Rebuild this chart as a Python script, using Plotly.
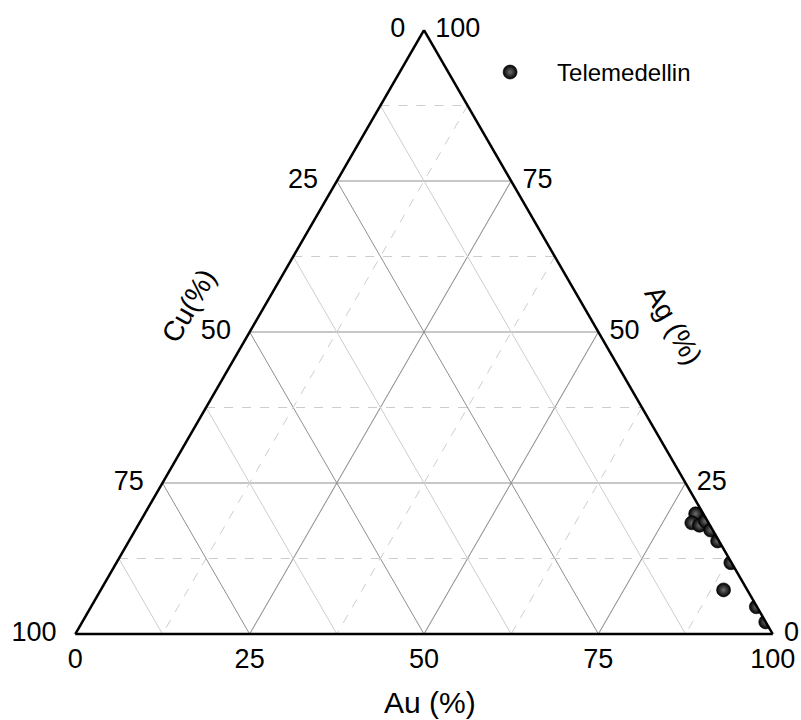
import plotly.graph_objects as go

# Composition of the Telemedellin samples (wt. %)
sample_names = [f"T{i}" for i in range(1, 11)]
ag_pct = [19.9, 18.4, 18.0, 18.7, 17.2, 15.4, 11.8, 7.3, 4.5, 2.0]
au_pct = [79.0, 79.2, 80.5, 81.0, 82.5, 84.4, 88.1, 89.3, 95.4, 98.0]
cu_pct = [1.1, 2.4, 1.5, 0.3, 0.3, 0.2, 0.1, 3.4, 0.1, 0.0]

# Axis ticks (major grid) and intermediate guide lines
major_ticks = [0, 25, 50, 75, 100]
minor_ticks = [12.5, 37.5, 62.5, 87.5]

FONT = "Liberation Sans, Arial, sans-serif"
TICK_SIZE = 27
NBSP = "\u00a0"


def complement_labels(vals, before="", after=""):
    # each edge is labelled with the component that runs the other way round
    return [before + str(int(100 - v)) + after for v in vals]


fig = go.Figure()

# Intermediate guide lines: horizontal (Ag) dashed, Cu solid, Au dashed
light = "#cdcdcd"
for v in minor_ticks:
    fig.add_trace(go.Scatterternary(
        a=[v, v], b=[100 - v, 0], c=[0, 100 - v], mode="lines",
        line=dict(color=light, width=1, dash="dash"),
        hoverinfo="skip", showlegend=False))
    fig.add_trace(go.Scatterternary(
        a=[100 - v, 0], b=[v, v], c=[0, 100 - v], mode="lines",
        line=dict(color=light, width=1),
        hoverinfo="skip", showlegend=False))
    fig.add_trace(go.Scatterternary(
        a=[100 - v, 0], b=[0, 100 - v], c=[v, v], mode="lines",
        line=dict(color=light, width=1, dash="dash"),
        hoverinfo="skip", showlegend=False))

fig.add_trace(go.Scatterternary(
    a=ag_pct, b=cu_pct, c=au_pct,
    text=sample_names,
    mode="markers",
    name="Telemedellin",
    marker=dict(
        size=14,
        color="#000000",
        gradient=dict(type="radial", color="#6e6e6e"),
        line=dict(color="#000000", width=0.6),
    ),
))


def axis(ticktext):
    return dict(
        min=0,
        linecolor="black",
        linewidth=2.5,
        showgrid=True,
        gridcolor="#8f8f8f",
        gridwidth=1,
        ticks="",
        tickmode="array",
        tickvals=major_ticks,
        ticktext=ticktext,
        tickfont=dict(family=FONT, size=TICK_SIZE, color="black"),
        title=dict(text=""),
    )


fig.update_layout(
    width=801,
    height=720,
    margin=dict(l=75, r=28, t=30, b=86),
    paper_bgcolor="white",
    plot_bgcolor="white",
    font=dict(family=FONT, color="black"),
    ternary=dict(
        sum=100,
        bgcolor="white",
        aaxis=axis(complement_labels(major_ticks, after=NBSP * 2)),
        baxis=axis(complement_labels(major_ticks)),
        caxis=axis(complement_labels(major_ticks, before=NBSP)),
    ),
    showlegend=True,
    legend=dict(
        x=0.556, y=0.967, xanchor="left", yanchor="top",
        bgcolor="rgba(0,0,0,0)",
        itemwidth=84,
        font=dict(family=FONT, size=24, color="black"),
    ),
    annotations=[
        dict(text="Au (%)", x=0.508, y=-0.1126, xref="paper", yref="paper",
             xanchor="center", yanchor="middle",
             showarrow=False, font=dict(size=30)),
        dict(text="Cu(%)", x=0.162, y=0.543, xref="paper", yref="paper",
             xanchor="center", yanchor="middle",
             showarrow=False, textangle=-60, font=dict(size=28)),
        dict(text="Ag (%)", x=0.857, y=0.51, xref="paper", yref="paper",
             xanchor="center", yanchor="middle",
             showarrow=False, textangle=60, font=dict(size=28)),
    ],
)

fig.write_html("out.html")
